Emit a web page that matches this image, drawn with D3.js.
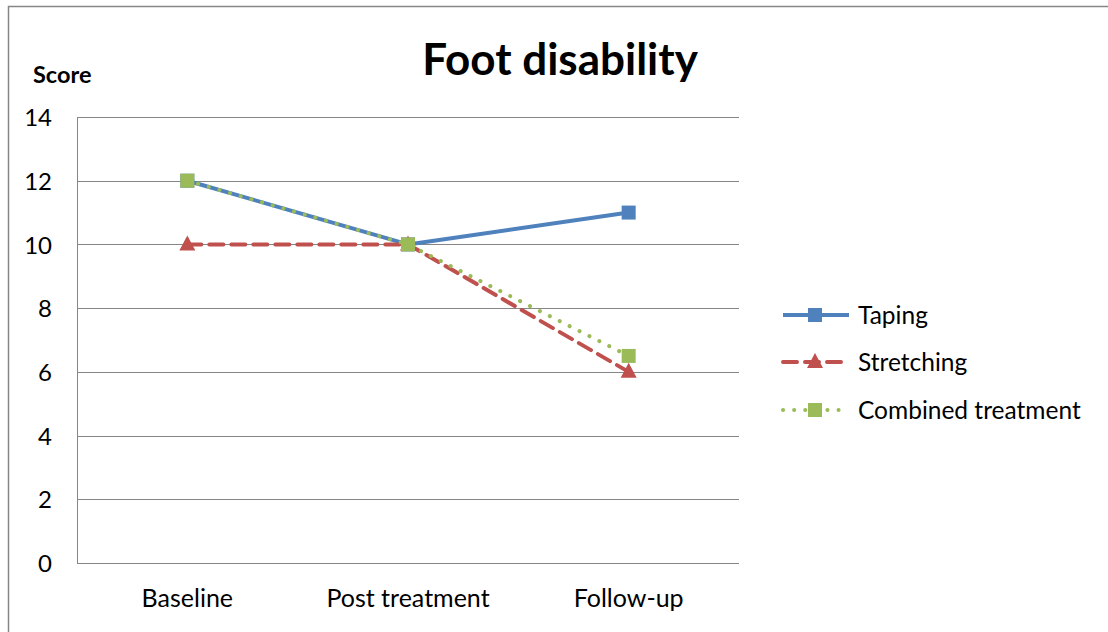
<!DOCTYPE html>
<html>
<head>
<meta charset="utf-8">
<script src="https://cdn.jsdelivr.net/npm/d3@7"></script>
<style>
  html, body { margin: 0; padding: 0; background: #fff; }
  svg { display: block; font-family: Lato, "Open Sans", sans-serif; }
</style>
</head>
<body>
<svg id="chart" width="1108" height="632"></svg>
<script>
// Foot disability scores across the three assessment points
const categories = ["Baseline", "Post treatment", "Follow-up"];
const seriesNames = ["Taping", "Stretching", "Combined treatment"];
const taping = [12, 10, 11];
const stretching = [10, 10, 6];
const combined = [12, 10, 6.5];
const yTicks = [0, 2, 4, 6, 8, 10, 12, 14];

const series = [
  { name: seriesNames[0], values: taping, color: "#4F81BD", dash: null, cap: "butt", marker: "square" },
  { name: seriesNames[1], values: stretching, color: "#C0504D", dash: "14 8", cap: "round", marker: "triangle" },
  { name: seriesNames[2], values: combined, color: "#9BBB59", dash: "0.1 11", cap: "round", marker: "square" }
];

const svg = d3.select("#chart");
const W = 1108, H = 632;

// outer frame (only left and top edges fall inside the window)
svg.append("rect")
  .attr("x", 8.5).attr("y", 6.5)
  .attr("width", W + 20).attr("height", H + 20)
  .attr("fill", "none").attr("stroke", "#868686").attr("stroke-width", 1.5);

const plot = { left: 77, right: 739, top: 117, bottom: 563 };

const x = d3.scaleBand().domain(categories).range([plot.left, plot.right]);
const y = d3.scaleLinear().domain([0, 14]).range([plot.bottom, plot.top]);

// horizontal gridlines
svg.append("g").selectAll("line").data(yTicks.filter(d => d > 0)).join("line")
  .attr("x1", plot.left).attr("x2", plot.right)
  .attr("y1", d => Math.round(y(d)) + 0.5).attr("y2", d => Math.round(y(d)) + 0.5)
  .attr("stroke", "#868686").attr("stroke-width", 1);

// axes lines
svg.append("line")
  .attr("x1", plot.left + 0.5).attr("x2", plot.left + 0.5)
  .attr("y1", plot.top).attr("y2", plot.bottom + 0.5)
  .attr("stroke", "#868686").attr("stroke-width", 1);
svg.append("line")
  .attr("x1", plot.left).attr("x2", plot.right)
  .attr("y1", plot.bottom + 0.5).attr("y2", plot.bottom + 0.5)
  .attr("stroke", "#868686").attr("stroke-width", 1);

// y tick labels
const yAxis = d3.axisLeft(y).tickValues(yTicks).tickSize(0).tickPadding(0);
const gy = svg.append("g").attr("transform", `translate(52,0)`).call(yAxis);
gy.select(".domain").remove();
gy.selectAll("text").attr("font-size", 24).attr("fill", "#000")
  .attr("font-family", "Lato, sans-serif").attr("dy", "0.36em");

// x category labels
const xAxis = d3.axisBottom(x).tickSize(0).tickPadding(0);
const gx = svg.append("g").attr("transform", `translate(0,607)`).call(xAxis);
gx.select(".domain").remove();
gx.selectAll("text").attr("font-size", 25).attr("fill", "#000")
  .attr("font-family", "Lato, sans-serif").attr("y", 0).attr("dy", 0);

// titles
svg.append("text").attr("x", 560).attr("y", 75).attr("text-anchor", "middle")
  .attr("font-size", 44).attr("font-weight", "bold").text("Foot disability");
svg.append("text").attr("x", 33).attr("y", 83)
  .attr("font-size", 23.5).attr("font-weight", "bold").text("Score");

const cx = c => x(c) + x.bandwidth() / 2;
const line = d3.line().x(d => cx(d.c)).y(d => y(d.v));

function drawMarker(g, type, px, py, color) {
  if (type === "square") {
    g.append("rect").attr("x", px - 7).attr("y", py - 7).attr("width", 14).attr("height", 14)
      .attr("fill", color);
  } else {
    g.append("path").attr("d", `M${px},${py - 9} L${px + 8},${py + 6} L${px - 8},${py + 6} Z`)
      .attr("fill", color);
  }
}

series.forEach(s => {
  const pts = categories.map((c, i) => ({ c, v: s.values[i] }));
  const g = svg.append("g");
  g.append("path").datum(pts).attr("d", line)
    .attr("fill", "none").attr("stroke", s.color).attr("stroke-width", 4)
    .attr("stroke-dasharray", s.dash).attr("stroke-linecap", s.cap)
    .attr("stroke-linejoin", "round");
  pts.forEach(p => drawMarker(g, s.marker, cx(p.c), y(p.v), s.color));
});

// legend
const legend = svg.append("g");
const legendY = [315, 362, 410];
series.forEach((s, i) => {
  const ly = legendY[i];
  const g = legend.append("g");
  g.append("line").attr("x1", 783).attr("x2", 849).attr("y1", ly).attr("y2", ly)
    .attr("stroke", s.color).attr("stroke-width", 4)
    .attr("stroke-dasharray", s.dash).attr("stroke-linecap", s.cap);
  drawMarker(g, s.marker, 815, ly, s.color);
  g.append("text").attr("x", 858).attr("y", ly).attr("dy", "0.36em")
    .attr("font-size", 24.5).text(s.name);
});
</script>
</body>
</html>
